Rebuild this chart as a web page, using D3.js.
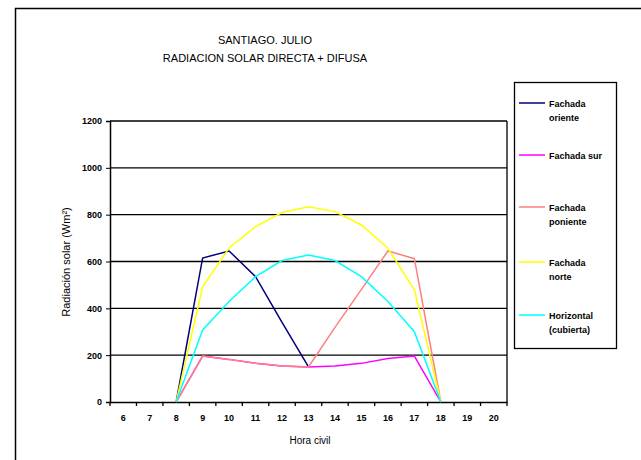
<!DOCTYPE html>
<html>
<head>
<meta charset="utf-8">
<script src="https://cdn.jsdelivr.net/npm/d3@7"></script>
<style>
  body { margin: 0; background: #fff; }
  text { font-family: "Liberation Sans", Arial, sans-serif; fill: #000; }
</style>
</head>
<body>
<svg id="chart" width="641" height="460"></svg>
<script>
// horas del dia (categorias del eje x)
const horas = [6, 7, 8, 9, 10, 11, 12, 13, 14, 15, 16, 17, 18, 19, 20]
const horasSerie = [8, 9, 10, 11, 12, 13, 14, 15, 16, 17, 18]

const oriente = [0, 615, 645, 535, 340, 150, null, null, null, null, null]
const sur = [0, 196, 182, 165, 154, 150, 154, 165, 186, 196, 0]
const poniente = [0, 196, 182, 165, 154, 150, 319, 481, 645, 612, 0]
const norte = [0, 492, 658, 749, 809, 834, 813, 756, 657, 479, 0]
const horizontal = [0, 308, 429, 535, 604, 628, 604, 535, 429, 300, 0]

const yTicks = [0, 200, 400, 600, 800, 1000, 1200]

const etiquetas = [["Fachada", "oriente"], ["Fachada sur"], ["Fachada", "poniente"], ["Fachada", "norte"], ["Horizontal", "(cubierta)"]]
const colores = ["#000080", "#ff00ff", "#ff8080", "#ffff00", "#00ffff"]

const series = [oriente, sur, poniente, norte, horizontal]

const svg = d3.select("#chart")

// marco exterior
svg.append("rect")
    .attr("x", 15.5).attr("y", 8.5)
    .attr("width", 640).attr("height", 470)
    .attr("fill", "none").attr("stroke", "#000").attr("stroke-width", 1.5)

const mLeft = 110, mRight = 507, mTop = 121, mBottom = 402

const x = d3.scaleBand().domain(horas).range([mLeft, mRight])
const y = d3.scaleLinear().domain([0, 1200]).range([mBottom, mTop])

// titulo
svg.append("text").attr("x", 265).attr("y", 44)
    .attr("text-anchor", "middle").attr("font-size", 11)
    .text("SANTIAGO. JULIO")
svg.append("text").attr("x", 265).attr("y", 62)
    .attr("text-anchor", "middle").attr("font-size", 11)
    .text("RADIACION SOLAR DIRECTA + DIFUSA")

// lineas de division
svg.append("g").selectAll("line")
    .data(yTicks.slice(1))
    .join("line")
    .attr("x1", mLeft).attr("x2", mRight)
    .attr("y1", d => y(d)).attr("y2", d => y(d))
    .attr("stroke", "#000").attr("stroke-width", 1.3)

// borde derecho
svg.append("line")
    .attr("x1", mRight).attr("x2", mRight)
    .attr("y1", mTop).attr("y2", mBottom)
    .attr("stroke", "#000").attr("stroke-width", 1.3)

// eje y
const yAxis = svg.append("g")
    .attr("transform", `translate(${mLeft},0)`)
    .call(d3.axisLeft(y).tickValues(yTicks).tickFormat(d3.format("d")).tickSize(4).tickPadding(4))
yAxis.select(".domain").attr("stroke-width", 1.5)
yAxis.selectAll("text")
    .attr("font-size", 9).attr("font-weight", "bold")
    .style("font-family", "'Liberation Sans', Arial, sans-serif")

// eje x (marcas entre categorias)
const xAxis = svg.append("g")
    .attr("transform", `translate(0,${mBottom})`)
    .call(d3.axisBottom(x).tickSize(0).tickPadding(13))
xAxis.select(".domain").attr("stroke-width", 1.5)
xAxis.selectAll("text")
    .attr("font-size", 9).attr("font-weight", "bold")
    .style("font-family", "'Liberation Sans', Arial, sans-serif")
svg.append("g").selectAll("line")
    .data(horas.concat([21]))
    .join("line")
    .attr("x1", (d, i) => mLeft + i * x.step())
    .attr("x2", (d, i) => mLeft + i * x.step())
    .attr("y1", mBottom).attr("y2", mBottom + 4)
    .attr("stroke", "#000").attr("stroke-width", 1.3)

// titulos de ejes
svg.append("text")
    .attr("transform", `translate(70,262) rotate(-90)`)
    .attr("text-anchor", "middle").attr("font-size", 11)
    .text("Radiación solar (Wm²)")
svg.append("text").attr("x", 310).attr("y", 444)
    .attr("text-anchor", "middle").attr("font-size", 10)
    .text("Hora civil")

// series
const linea = d3.line()
    .defined(d => d[1] !== null)
    .x(d => x(d[0]) + x.bandwidth() / 2)
    .y(d => y(d[1]))

series.forEach((s, i) => {
    svg.append("path")
        .datum(horasSerie.map((h, j) => [h, s[j]]))
        .attr("d", linea)
        .attr("fill", "none")
        .attr("stroke", colores[i])
        .attr("stroke-width", 1.5)
})

// leyenda
svg.append("rect")
    .attr("x", 514.5).attr("y", 82.5)
    .attr("width", 102).attr("height", 266)
    .attr("fill", "#fff").attr("stroke", "#000").attr("stroke-width", 1.3)

const legY = [103, 155, 207, 262, 315]
etiquetas.forEach((lab, i) => {
    svg.append("line")
        .attr("x1", 519).attr("x2", 545)
        .attr("y1", legY[i]).attr("y2", legY[i])
        .attr("stroke", colores[i]).attr("stroke-width", 1.5)
    lab.forEach((t, k) => {
        svg.append("text")
            .attr("x", 549).attr("y", legY[i] + 3.5 + k * 14)
            .attr("font-size", 9).attr("font-weight", "bold")
            .text(t)
    })
})
</script>
</body>
</html>
